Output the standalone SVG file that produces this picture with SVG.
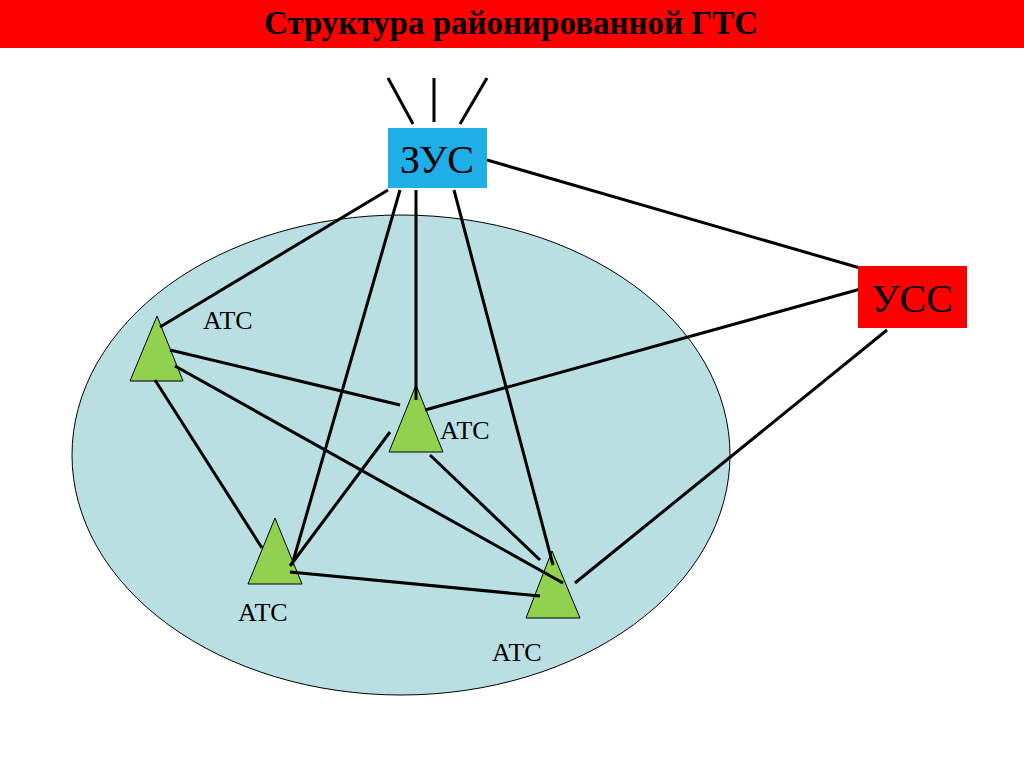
<svg xmlns="http://www.w3.org/2000/svg" width="1024" height="767" viewBox="0 0 1024 767">
<style>
.t{font-family:"Liberation Serif",serif;fill:#000}
.l{stroke:#000;stroke-width:3;fill:none}
.tri{fill:#92d050;stroke:#000;stroke-width:1}
</style>
<rect width="1024" height="767" fill="#fff"/>
<rect x="0" y="0" width="1024" height="48" fill="#ff0000"/>
<text class="t" x="511" y="34" font-size="33" font-weight="bold" text-anchor="middle">Структура районированной ГТС</text>
<ellipse cx="401" cy="455" rx="329" ry="240" fill="#b9dfe3" stroke="#000" stroke-width="1"/>
<g id="ats1"><polygon class="tri" points="157,316 130,381 183,381"/><text class="t" x="203" y="329" font-size="26">АТС</text></g>
<g id="ats2"><polygon class="tri" points="416,385 389,452 443,452"/><text class="t" x="440" y="439" font-size="26">АТС</text></g>
<g id="ats3"><polygon class="tri" points="275,518 248,584 302,584"/><text class="t" x="238" y="621" font-size="26">АТС</text></g>
<g id="ats4"><polygon class="tri" points="552,551 526,618 580,618"/><text class="t" x="492" y="661" font-size="26">АТС</text></g>
<g id="connectors">
<line class="l" x1="388" y1="78" x2="413" y2="124"/>
<line class="l" x1="434" y1="78" x2="434" y2="122"/>
<line class="l" x1="487" y1="78" x2="460" y2="124"/>
<line class="l" x1="487" y1="160" x2="860" y2="268"/>
<line class="l" x1="388" y1="190" x2="160" y2="327"/>
<line class="l" x1="400" y1="190" x2="292" y2="565"/>
<line class="l" x1="416" y1="190" x2="416" y2="400"/>
<line class="l" x1="454" y1="190" x2="553" y2="565"/>
<line class="l" x1="875" y1="285" x2="425" y2="410"/>
<line class="l" x1="887" y1="330" x2="575" y2="583"/>
<line class="l" x1="170" y1="350" x2="400" y2="405"/>
<line class="l" x1="175" y1="366" x2="563" y2="583"/>
<line class="l" x1="155" y1="380" x2="262" y2="548"/>
<line class="l" x1="390" y1="432" x2="290" y2="566"/>
<line class="l" x1="430" y1="455" x2="540" y2="560"/>
<line class="l" x1="290" y1="572" x2="540" y2="596"/>
</g>
<g id="zus"><rect x="388" y="128" width="99" height="60" fill="#1eaee8"/><text class="t" x="437" y="173" font-size="40" text-anchor="middle">ЗУС</text></g>
<g id="uss"><rect x="858" y="266" width="109" height="62" fill="#ff0000"/><text class="t" x="912" y="312" font-size="40" text-anchor="middle">УСС</text></g>
</svg>
